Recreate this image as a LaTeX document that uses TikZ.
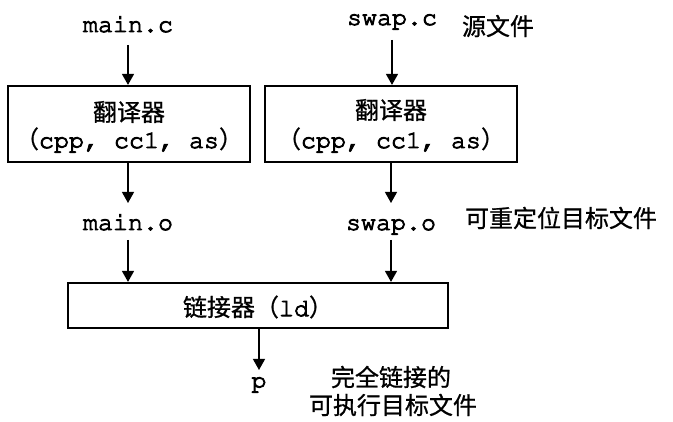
\documentclass[tikz,border=0pt]{standalone}
\usepackage[T1]{fontenc}
\usepackage{fontspec}
\newfontfamily\cjk{Noto Sans CJK SC}[FakeBold=0.8]
\usetikzlibrary{arrows.meta}
\newcommand\monofont{\fontencoding{T1}\fontfamily{pcr}\fontseries{m}\fontshape{n}\fontsize{25}{25}\selectfont}
\newcommand\mymono[1]{{\monofont\special{pdf:literal direct 2 Tr 0.9 w}#1\special{pdf:literal direct 0 Tr}}}
\begin{document}
\begin{tikzpicture}[x=1pt,y=-1pt,
  mono/.style={inner sep=0pt, anchor=base},
  zh/.style={font=\fontsize{24}{24}\selectfont\cjk, inner sep=0pt},
  box/.style={draw, line width=2.2pt, inner sep=0pt},
  arr/.style={line width=1.3pt, -{Triangle[length=11pt,width=12pt]}}]
\useasboundingbox (0,0) rectangle (673,422);

% boxes
\node[box, minimum width=242pt, minimum height=76pt] (b1) at (129,124) {};
\node[box, minimum width=252pt, minimum height=76pt] (b2) at (391,124) {};
\node[box, minimum width=380pt, minimum height=45pt] (lk) at (258,305.5) {};

% texts
\node[mono] (mainc) at (128,32) {\mymono{main.c}};
\node[mono] (swapc) at (392,25) {\mymono{swap.c}};
\node[zh] (src) at (498,26) {源文件};

\node[zh] (t1a) at (129,112) {翻译器};
\node[mono] (t1b) at (129,148) {{\fontsize{24}{24}\selectfont\cjk （}\mymono{cpp, cc1, as}{\fontsize{24}{24}\selectfont\cjk ）}};
\node[zh] (t2a) at (391,110) {翻译器};
\node[mono] (t2b) at (391,148) {{\fontsize{24}{24}\selectfont\cjk （}\mymono{cpp, cc1, as}{\fontsize{24}{24}\selectfont\cjk ）}};

\node[mono] (maino) at (128,230) {\mymono{main.o}};
\node[mono] (swapo) at (391,230) {\mymono{swap.o}};
\node[zh] (reloc) at (561,218) {可重定位目标文件};

\node[zh] (lkt) at (258,307) {链接器（\mymono{ld}）};

\node[mono] (p) at (259,388) {\mymono{p}};
\node[zh] (exe1) at (391,377) {完全链接的};
\node[zh] (exe2) at (393,405) {可执行目标文件};

% arrows
\draw[arr] ([yshift=-13pt]mainc.base) -- (mainc.base |- b1.north);
\draw[arr] ([yshift=-15pt]swapc.base) -- (swapc.base |- b2.north);
\draw[arr] (maino.base |- b1.south) -- ([yshift=27pt]maino.base);
\draw[arr] (swapo.base |- b2.south) -- ([yshift=27pt]swapo.base);
\draw[arr] ([yshift=-10pt]maino.base) -- (maino.base |- lk.north);
\draw[arr] ([yshift=-10pt]swapo.base) -- (swapo.base |- lk.north);
\draw[arr] (p.base |- lk.south) -- ([yshift=18pt]p.base);
\end{tikzpicture}
\end{document}
